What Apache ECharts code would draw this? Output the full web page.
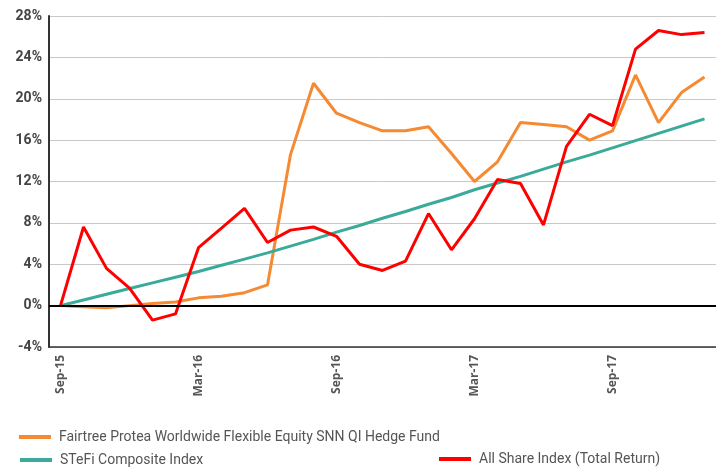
<!DOCTYPE html>
<html>
<head>
<meta charset="utf-8">
<script src="https://cdn.jsdelivr.net/npm/echarts@6/dist/echarts.min.js"></script>
<style>
  html, body { margin: 0; padding: 0; background: #fff; }
  #chart { width: 716px; height: 468px; }
</style>
</head>
<body>
<div id="chart"></div>
<script>
// monthly points, Sep-15 .. Jan-18
var months = ['Sep-15', 'Oct-15', 'Nov-15', 'Dec-15', 'Jan-16', 'Feb-16', 'Mar-16', 'Apr-16', 'May-16', 'Jun-16',
  'Jul-16', 'Aug-16', 'Sep-16', 'Oct-16', 'Nov-16', 'Dec-16', 'Jan-17', 'Feb-17', 'Mar-17', 'Apr-17',
  'May-17', 'Jun-17', 'Jul-17', 'Aug-17', 'Sep-17', 'Oct-17', 'Nov-17', 'Dec-17', 'Jan-18']

// cumulative return, %
var fundValues = [0, -0.1, -0.2, 0, 0.2, 0.35, 0.75, 0.9, 1.25, 2.0,
  14.6, 21.5, 18.6, 17.7, 16.9, 16.9, 17.3, 14.7, 12.0, 13.9,
  17.7, 17.5, 17.3, 16.0, 16.9, 22.3, 17.7, 20.6, 22.1]
var stefiValues = [0, 0.55, 1.1, 1.65, 2.2, 2.75, 3.3, 3.9, 4.5, 5.1,
  5.75, 6.4, 7.1, 7.75, 8.45, 9.1, 9.8, 10.45, 11.2, 11.85,
  12.5, 13.2, 13.9, 14.55, 15.25, 15.95, 16.65, 17.35, 18.05]
var alsiValues = [0, 7.6, 3.6, 1.7, -1.4, -0.8, 5.6, 7.5, 9.4, 6.1,
  7.3, 7.6, 6.7, 4.0, 3.4, 4.3, 8.9, 5.4, 8.4, 12.2,
  11.8, 7.8, 15.4, 18.5, 17.4, 24.8, 26.6, 26.2, 26.4]

var seriesNames = [
  'Fairtree Protea Worldwide Flexible Equity SNN QI Hedge Fund',
  'STeFi Composite Index',
  'All Share Index (Total Return)'
]
var colors = ['#F58A32', '#3AAA9A', '#FF0000']

var chart = echarts.init(document.getElementById('chart'))

function legendAt (name, left, top) {
  return {
    data: [name],
    left: left,
    top: top,
    padding: 0,
    icon: 'rect',
    itemWidth: 32,
    itemHeight: 4,
    selectedMode: false,
    textStyle: {
      fontFamily: 'Roboto',
      fontSize: 14,
      color: '#555',
      padding: [0, 0, 0, 3]
    }
  }
}

function lineSeries (idx, data) {
  return {
    name: seriesNames[idx],
    type: 'line',
    data: data,
    symbol: 'none',
    lineStyle: { width: 3, color: colors[idx] },
    itemStyle: { color: colors[idx] },
    animation: false
  }
}

var fund = lineSeries(0, fundValues)
var stefi = lineSeries(1, stefiValues)
var alsi = lineSeries(2, alsiValues)
// zero line
stefi.markLine = {
  silent: true,
  symbol: 'none',
  label: { show: false },
  lineStyle: { color: '#000', width: 2, type: 'solid' },
  data: [{ yAxis: 0 }]
}

chart.setOption({
  animation: false,
  grid: { left: 49, right: -7, top: 16, bottom: 121 },
  legend: [
    legendAt(seriesNames[0], 19, 430),
    legendAt(seriesNames[1], 20, 453),
    legendAt(seriesNames[2], 439, 452)
  ],
  xAxis: {
    type: 'category',
    data: months,
    boundaryGap: true,
    axisLine: { onZero: false, lineStyle: { color: '#333', width: 1.5 } },
    axisTick: { show: false },
    axisLabel: {
      interval: 5,
      rotate: 90,
      margin: 8,
      fontFamily: 'Open Sans',
      fontWeight: 'bold',
      fontSize: 12,
      color: '#555'
    },
    splitLine: { show: false }
  },
  yAxis: {
    type: 'value',
    min: -4,
    max: 28,
    interval: 4,
    axisLine: { show: true, lineStyle: { color: '#333', width: 2 } },
    axisTick: { show: false },
    axisLabel: {
      formatter: '{value}%',
      margin: 7,
      fontFamily: 'Roboto',
      fontWeight: 'bold',
      fontSize: 14,
      color: '#444'
    },
    splitLine: { lineStyle: { color: '#c8c8c8', width: 1 } }
  },
  series: [fund, stefi, alsi]
})
</script>
</body>
</html>
